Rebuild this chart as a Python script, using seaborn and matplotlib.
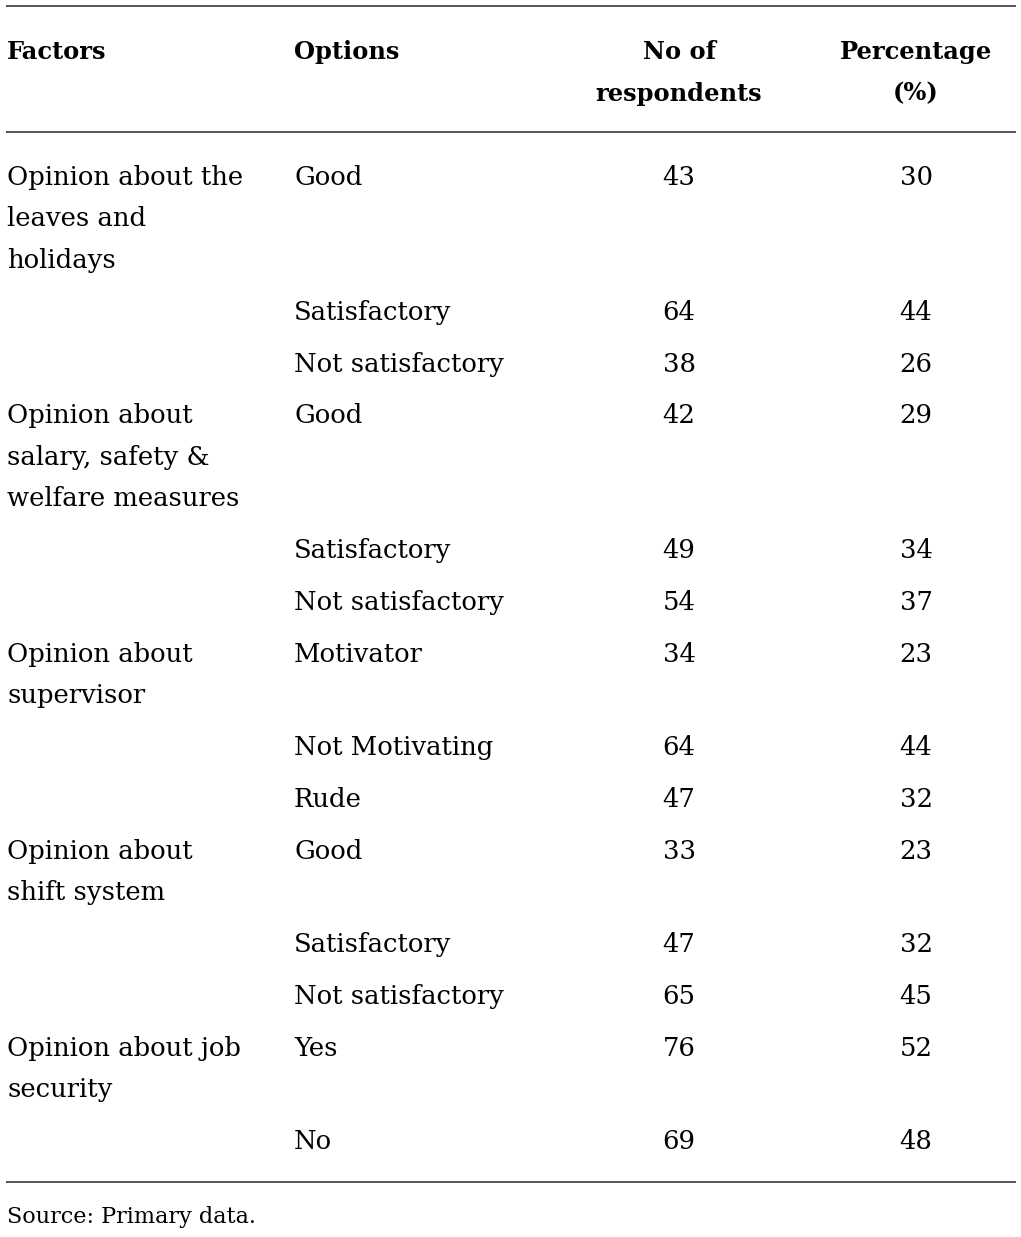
import matplotlib
matplotlib.use("Agg")
import matplotlib.pyplot as plt
import seaborn as sns

# ---- data ----
headers = ["Factors", "Options", "No of\nrespondents", "Percentage\n(%)"]
factors = [
    "Opinion about the\nleaves and\nholidays", "", "",
    "Opinion about\nsalary, safety &\nwelfare measures", "", "",
    "Opinion about\nsupervisor", "", "",
    "Opinion about\nshift system", "", "",
    "Opinion about job\nsecurity", "",
]
options = [
    "Good", "Satisfactory", "Not satisfactory",
    "Good", "Satisfactory", "Not satisfactory",
    "Motivator", "Not Motivating", "Rude",
    "Good", "Satisfactory", "Not satisfactory",
    "Yes", "No",
]
respondents = [43, 64, 38, 42, 49, 54, 34, 64, 47, 33, 47, 65, 76, 69]
percentages = [30, 44, 26, 29, 34, 37, 23, 44, 32, 23, 32, 45, 52, 48]
source_note = "Source: Primary data."

sns.set_theme(style="white")
plt.rcParams["font.family"] = ["DejaVu Serif"]

W, H = 1021, 1237
fig = plt.figure(figsize=(W / 100, H / 100), dpi=100)
ax = fig.add_axes([0, 0, 1, 1])
ax.set_xlim(0, W)
ax.set_ylim(H, 0)
ax.axis("off")

FS = 18.6
FS_HEAD = 17.4
FS_SRC = 16.1
LINE = 41.5
GAP = 51.8
col_x = [7, 294, 679, 916]
col_ha = ["left", "left", "center", "center"]
rule_color = "#555555"

# rules
for y in (6, 132, 1182):
    ax.hlines(y, 6, 1016, color=rule_color, lw=1.4)

# header
for x, ha, h in zip(col_x, col_ha, headers):
    for k, line in enumerate(h.split("\n")):
        ax.text(x, 59 + k * LINE, line, ha=ha, va="baseline",
                fontsize=FS_HEAD, fontweight="bold", color="black")

# body
y = 185.0
for f, o, r, p in zip(factors, options, respondents, percentages):
    lines = f.split("\n") if f else []
    for k, line in enumerate(lines):
        ax.text(col_x[0], y + k * LINE, line, ha="left", va="baseline",
                fontsize=FS, color="black")
    ax.text(col_x[1], y, o, ha="left", va="baseline", fontsize=FS, color="black")
    ax.text(col_x[2], y, str(r), ha="center", va="baseline", fontsize=FS, color="black")
    ax.text(col_x[3], y, str(p), ha="center", va="baseline", fontsize=FS, color="black")
    n = max(len(lines), 1)
    y += (n - 1) * LINE + GAP

ax.text(7, 1223, source_note, ha="left", va="baseline", fontsize=FS_SRC, color="black")

fig.savefig("out.png", dpi=100, facecolor="white")
